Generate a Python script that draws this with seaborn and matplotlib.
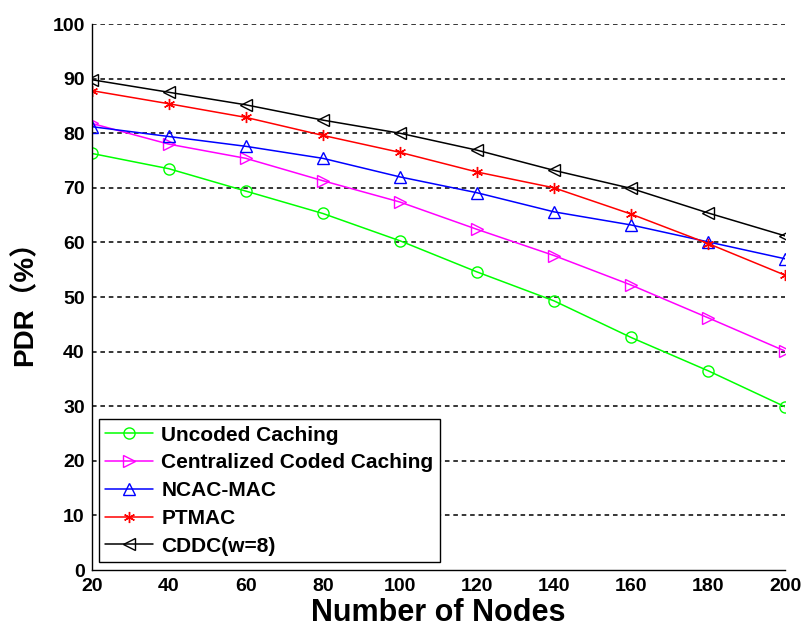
import matplotlib
matplotlib.use("Agg")
import matplotlib.pyplot as plt
import seaborn as sns
import pandas as pd

nodes = [20, 40, 60, 80, 100, 120, 140, 160, 180, 200]
uncoded = [76.3, 73.5, 69.4, 65.3, 60.3, 54.6, 49.3, 42.6, 36.5, 29.9]
centralized = [81.8, 78.0, 75.4, 71.3, 67.4, 62.4, 57.6, 52.2, 46.2, 40.1]
ncac_mac = [81.2, 79.4, 77.6, 75.4, 72.0, 69.1, 65.6, 63.2, 60.1, 57.0]
ptmac = [87.8, 85.4, 82.9, 79.6, 76.5, 72.9, 70.0, 65.2, 59.8, 54.0]
cddc = [89.8, 87.5, 85.2, 82.4, 80.0, 76.9, 73.2, 69.9, 65.4, 61.2]

series_names = ["Uncoded Caching", "Centralized Coded Caching", "NCAC-MAC", "PTMAC", "CDDC(w=8)"]
series_values = [uncoded, centralized, ncac_mac, ptmac, cddc]
colors = ["#00FF00", "#FF00FF", "#0000FF", "#FF0000", "#000000"]
markers = ["o", ">", "^", (6, 2, 0), "<"]

yticks = [0, 10, 20, 30, 40, 50, 60, 70, 80, 90, 100]
xticks = [20, 40, 60, 80, 100, 120, 140, 160, 180, 200]

sns.set_style("white")
plt.rcParams["font.family"] = ["Liberation Sans", "Noto Sans CJK SC", "DejaVu Sans"]
plt.rcParams["text.color"] = "black"
plt.rcParams["axes.labelcolor"] = "black"
plt.rcParams["xtick.color"] = "black"
plt.rcParams["ytick.color"] = "black"

fig = plt.figure(figsize=(8.01, 6.27), dpi=100)
ax = fig.add_axes([0.1145, 0.0909, 0.8656, 0.8708])

for name, vals, c, m in zip(series_names, series_values, colors, markers):
    df = pd.DataFrame({"nodes": nodes, "pdr": vals})
    sns.lineplot(data=df, x="nodes", y="pdr", ax=ax, color=c, marker=m,
                 markersize=8, markerfacecolor="none", markeredgecolor=c,
                 markeredgewidth=1.0, linewidth=1.1, label=name)

ax.set_xlim(20, 200)
ax.set_ylim(0, 100)
ax.set_xticks(xticks)
ax.set_yticks(yticks)
ax.set_xticklabels([str(v) for v in xticks], fontsize=14, fontweight="bold", color="black")
ax.set_yticklabels([str(v) for v in yticks], fontsize=14, fontweight="bold", color="black")
ax.tick_params(axis="both", direction="in", length=5, width=1, color="black")
ax.tick_params(axis="x", pad=6)
ax.tick_params(axis="y", pad=5)

for v in yticks[1:]:
    ax.axhline(v, color="black", linestyle=(0, (3, 2.5)), linewidth=1.1, zorder=0.5)

for s in ["top", "right"]:
    ax.spines[s].set_visible(False)
for s in ["left", "bottom"]:
    ax.spines[s].set_color("black")
    ax.spines[s].set_linewidth(1.0)

ax.set_xlabel("Number of Nodes", fontsize=22, fontweight="bold", labelpad=2, color="black")
ax.set_ylabel("PDR（%）", fontsize=20, fontweight="bold", labelpad=10, color="black")

leg = ax.legend(loc="lower left", bbox_to_anchor=(0.0105, 0.0147), borderaxespad=0,
                frameon=True, fancybox=False, edgecolor="black", framealpha=1,
                prop={"size": 15, "weight": "bold"}, handlelength=2.3,
                handletextpad=0.4, labelspacing=0.42, borderpad=0.3)
leg.get_frame().set_linewidth(1.0)
for t in leg.get_texts():
    t.set_color("black")

fig.savefig("out.png", dpi=100)
